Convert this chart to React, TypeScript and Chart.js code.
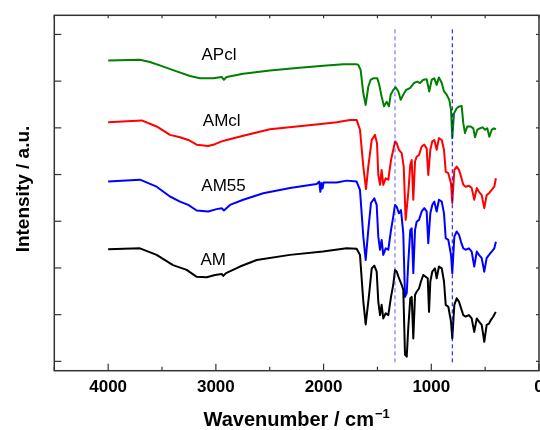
import { useEffect, useRef } from "react";
import { Chart, registerables } from "chart.js";

Chart.register(...registerables);

// [wavenumber (cm^-1), intensity (a.u., offset)]
const amData: [number, number][] = [
  [4000, 24.0], [3705, 24.2], [3550, 22.8], [3398, 20.6], [3271, 19.6], [3178, 18.1], [3085, 18.0], [3008, 18.5],
  [2946, 18.7], [2931, 18.3], [2906, 18.9], [2776, 20.3], [2621, 21.7], [2312, 22.8], [2006, 23.5], [1786, 24.2],
  [1693, 24.1], [1662, 22.8], [1631, 12.8], [1609, 7.9], [1578, 14.2], [1553, 19.9], [1529, 20.5], [1507, 19.2],
  [1492, 12.8], [1476, 9.9], [1461, 12.1], [1446, 9.2], [1423, 10.3], [1399, 9.9], [1374, 13.8], [1353, 16.4],
  [1337, 19.6], [1321, 19.2], [1300, 17.8], [1275, 16.4], [1260, 15.3], [1244, 1.4], [1228, 1.0], [1214, 7.1],
  [1195, 13.5], [1182, 13.8], [1167, 4.9], [1151, 14.2], [1136, 14.9], [1114, 15.6], [1096, 17.1], [1074, 18.5],
  [1052, 18.1], [1033, 17.8], [1021, 10.6], [1009, 17.1], [991, 19.2], [966, 19.9], [950, 17.8], [929, 20.3],
  [903, 19.9], [882, 17.1], [866, 12.1], [842, 11.7], [817, 8.5], [805, 4.9], [786, 12.1], [764, 13.5],
  [743, 12.8], [724, 11.4], [703, 9.9], [681, 9.6], [650, 9.9], [625, 9.2], [601, 6.3], [578, 9.2],
  [557, 8.5], [532, 7.8], [508, 4.2], [486, 7.8], [464, 8.1], [446, 8.9], [424, 9.6], [402, 10.6],
];

const am55Data: [number, number][] = [
  [4000, 38.5], [3705, 38.9], [3550, 37.4], [3426, 35.3], [3333, 34.2], [3256, 33.5], [3178, 32.3], [3071, 32.1],
  [2993, 32.6], [2946, 32.8], [2925, 32.3], [2869, 33.5], [2746, 34.6], [2560, 36.0], [2312, 37.1], [2064, 38.0],
  [2040, 38.5], [2030, 36.3], [2020, 38.2], [2010, 37.0], [2000, 38.3], [1878, 38.3], [1786, 38.7], [1693, 38.5],
  [1662, 36.7], [1631, 26.7], [1609, 21.7], [1585, 28.1], [1560, 33.9], [1529, 34.9], [1507, 33.5], [1492, 26.7],
  [1476, 23.9], [1461, 26.0], [1446, 22.8], [1423, 24.2], [1399, 23.9], [1374, 28.1], [1353, 31.0], [1337, 33.5],
  [1321, 33.1], [1300, 31.7], [1281, 32.4], [1260, 27.4], [1244, 13.8], [1228, 14.6], [1214, 21.0], [1195, 28.1],
  [1182, 28.5], [1167, 18.9], [1151, 28.1], [1136, 29.9], [1114, 30.3], [1089, 32.1], [1065, 32.8], [1043, 32.1],
  [1028, 25.3], [1009, 31.7], [991, 33.5], [972, 34.2], [950, 32.1], [929, 34.6], [903, 34.2], [882, 31.7],
  [866, 26.4], [842, 26.0], [817, 22.8], [805, 18.9], [786, 26.7], [764, 27.8], [743, 27.1], [724, 25.6],
  [703, 24.2], [681, 23.9], [650, 24.2], [625, 23.5], [601, 20.3], [578, 23.5], [557, 22.8], [532, 22.1],
  [508, 19.2], [486, 22.1], [464, 22.8], [439, 23.5], [415, 24.2], [400, 25.6],
];

const amclData: [number, number][] = [
  [4000, 51.2], [3689, 51.6], [3550, 50.3], [3426, 48.5], [3333, 48.0], [3256, 47.4], [3178, 46.4], [3071, 46.1],
  [3008, 46.5], [2946, 47.1], [2900, 47.4], [2746, 48.3], [2498, 49.7], [2250, 50.3], [2003, 50.9], [1878, 51.2],
  [1755, 51.7], [1693, 51.7], [1662, 49.6], [1631, 41.7], [1606, 36.9], [1585, 41.7], [1553, 47.4], [1523, 48.5],
  [1504, 46.7], [1492, 39.9], [1476, 37.8], [1461, 41.0], [1446, 37.8], [1423, 39.2], [1399, 38.9], [1374, 43.1],
  [1353, 45.3], [1337, 47.1], [1321, 46.7], [1300, 45.3], [1275, 44.6], [1256, 41.7], [1238, 30.3], [1214, 36.0],
  [1195, 42.1], [1182, 43.1], [1167, 34.6], [1151, 42.8], [1136, 43.8], [1114, 44.2], [1089, 46.0], [1065, 46.4],
  [1043, 45.6], [1028, 39.9], [1009, 45.3], [991, 47.1], [972, 47.4], [950, 45.3], [929, 47.8], [903, 47.4],
  [882, 45.3], [866, 40.6], [842, 40.3], [817, 38.1], [805, 33.9], [786, 41.0], [764, 41.7], [743, 41.0],
  [724, 39.6], [703, 37.8], [681, 37.4], [650, 37.6], [625, 37.1], [601, 34.6], [578, 37.1], [557, 36.3],
  [532, 35.6], [508, 32.8], [486, 35.6], [464, 36.0], [439, 36.7], [415, 37.4], [400, 39.2],
];

const apclData: [number, number][] = [
  [4000, 64.4], [3705, 64.6], [3612, 64.1], [3488, 63.1], [3364, 62.1], [3240, 61.1], [3148, 60.6], [3024, 60.6],
  [2946, 60.9], [2925, 60.3], [2900, 60.9], [2746, 61.6], [2498, 62.3], [2250, 62.8], [2003, 63.3], [1817, 63.6],
  [1693, 63.6], [1678, 63.5], [1656, 62.4], [1631, 57.4], [1609, 54.9], [1585, 58.8], [1563, 60.3], [1539, 60.6],
  [1501, 60.6], [1483, 59.2], [1461, 56.7], [1439, 54.6], [1414, 55.6], [1393, 54.6], [1377, 57.1], [1353, 58.1],
  [1331, 58.7], [1306, 57.8], [1284, 56.0], [1260, 57.1], [1235, 58.1], [1198, 58.5], [1161, 59.6], [1130, 59.9],
  [1105, 59.6], [1074, 60.3], [1043, 60.4], [1019, 57.8], [996, 60.3], [972, 60.6], [950, 59.2], [929, 60.8],
  [903, 59.6], [882, 57.8], [857, 57.1], [833, 56.0], [817, 53.9], [805, 47.8], [789, 53.1], [764, 54.2],
  [740, 54.6], [718, 54.7], [703, 51.0], [687, 48.9], [666, 50.3], [634, 50.3], [610, 49.9], [594, 48.0],
  [573, 49.6], [548, 49.9], [523, 50.1], [501, 49.6], [480, 49.9], [461, 48.1], [439, 49.6], [418, 49.9], [400, 49.7],
];

const seriesNames = ["AM", "AM55", "AMcl", "APcl"];
const labelWn = [3024, 2929, 2946, 2971];
const labelI = [21.6, 37.4, 51.3, 65.5];

const markerWn = [1337, 805];
const markerRange = [71.1, -0.8];

const xTickLabels = [4000, 3000, 2000, 1000, 0];
const xTickValues = [4500, 4000, 3500, 3000, 2500, 2000, 1500, 1000, 500, 0];
const yTickValues = [0, 10, 20, 30, 40, 50, 60, 70];

const FONT = '"Liberation Sans", Arial, Helvetica, sans-serif';

const framePlugin = {
  id: "frame",
  afterDatasetsDraw(chart: any) {
    const { ctx, chartArea, scales } = chart;
    const { left, right, top, bottom } = chartArea;
    const x = scales.x;
    const y = scales.y;
    ctx.save();
    ctx.strokeStyle = "#333";
    ctx.lineWidth = 1.5;
    ctx.strokeRect(left, top, right - left, bottom - top);
    ctx.lineWidth = 1.2;
    const seg = (x1: number, y1: number, x2: number, y2: number) => {
      ctx.beginPath();
      ctx.moveTo(x1, y1);
      ctx.lineTo(x2, y2);
      ctx.stroke();
    };
    xTickValues.forEach((v) => {
      const px = x.getPixelForValue(v);
      const major = v % 1000 === 0;
      seg(px, bottom, px, bottom - (major ? 7 : 4));
      seg(px, top, px, top + 3);
    });
    yTickValues.forEach((v) => {
      const py = y.getPixelForValue(v);
      seg(left, py, left + 7, py);
      seg(right, py, right - 3, py);
    });

    ctx.fillStyle = "#000";
    ctx.textAlign = "center";
    ctx.textBaseline = "middle";
    ctx.font = `bold 17px ${FONT}`;
    xTickLabels.forEach((v) => {
      ctx.fillText(String(v), x.getPixelForValue(v), bottom + 17);
    });

    ctx.font = `17px ${FONT}`;
    seriesNames.forEach((n, i) => {
      ctx.fillText(n, x.getPixelForValue(labelWn[i]), y.getPixelForValue(labelI[i]));
    });

    // x title with superscript
    const main = "Wavenumber / cm";
    const sup = "\u22121";
    ctx.font = `bold 20px ${FONT}`;
    const w1 = ctx.measureText(main).width;
    ctx.font = `bold 13px ${FONT}`;
    const w2 = ctx.measureText(sup).width;
    const cx = (left + right) / 2;
    const sx = cx - (w1 + w2 + 1) / 2;
    ctx.textAlign = "left";
    ctx.textBaseline = "alphabetic";
    ctx.font = `bold 20px ${FONT}`;
    ctx.fillText(main, sx, bottom + 55);
    ctx.font = `bold 13px ${FONT}`;
    ctx.fillText(sup, sx + w1 + 1, bottom + 47);

    // y title
    ctx.save();
    ctx.translate(24, (top + bottom) / 2 - 4);
    ctx.rotate(-Math.PI / 2);
    ctx.textAlign = "center";
    ctx.textBaseline = "middle";
    ctx.font = `bold 19px ${FONT}`;
    ctx.fillText("Intensity / a.u.", 0, 0);
    ctx.restore();

    ctx.restore();
  },
};

export default function App() {
  const ref = useRef<HTMLCanvasElement>(null);
  useEffect(() => {
    document.body.style.margin = "0";
    const canvas = ref.current!;
    const toPts = (d: [number, number][]) => d.map(([x, y]) => ({ x, y }));
    const series = [
      { d: amData, c: "#000000" },
      { d: am55Data, c: "#0000ff" },
      { d: amclData, c: "#ff0000" },
      { d: apclData, c: "#008000" },
    ];
    const markerSets = markerWn.map((wn, i) => ({
      label: "marker" + i,
      data: markerRange.map((v) => ({ x: wn, y: v })),
      borderColor: i === 0 ? "rgba(40,40,255,0.75)" : "#0000ff",
      borderWidth: 1,
      borderDash: [4, 3],
      pointRadius: 0,
      tension: 0,
    }));
    const chart = new Chart(canvas, {
      type: "line",
      data: {
        datasets: [
          ...markerSets,
          ...series.map((s, i) => ({
            label: seriesNames[i],
            data: toPts(s.d),
            borderColor: s.c,
            borderWidth: 2,
            borderJoinStyle: "round",
            pointRadius: 0,
            tension: 0,
            fill: false,
          })),
        ],
      },
      options: {
        responsive: false,
        animation: false,
        devicePixelRatio: 1,
        layout: { padding: { left: 54.3, right: 1, top: 15.3, bottom: 59.3 } },
        scales: {
          x: { type: "linear", reverse: true, min: 0, max: 4500, display: false },
          y: { type: "linear", min: -2, max: 74.1, display: false },
        },
        plugins: { legend: { display: false }, tooltip: { enabled: false } },
      },
      plugins: [framePlugin],
    } as any);
    return () => chart.destroy();
  }, []);
  return (
    <canvas ref={ref} width={540} height={430} style={{ display: "block", width: 540, height: 430 }} />
  );
}
